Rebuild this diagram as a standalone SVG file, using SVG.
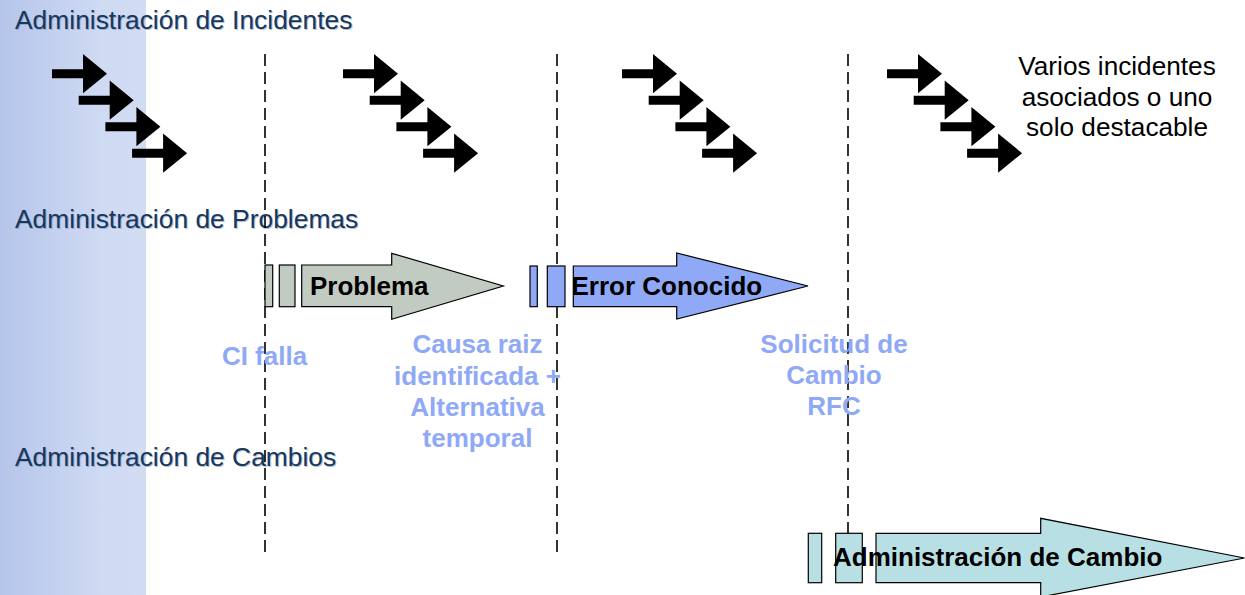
<svg xmlns="http://www.w3.org/2000/svg" xmlns:xlink="http://www.w3.org/1999/xlink" width="1245" height="595" viewBox="0 0 1245 595">
<style>
.hdr{font-family:"Liberation Sans",Arial,sans-serif;font-size:26.4px;fill:#17375e}
.hdrs{font-family:"Liberation Sans",Arial,sans-serif;font-size:26.4px;fill:#7f8ea6;opacity:0.55}
.lbl{font-family:"Liberation Sans",Arial,sans-serif;font-size:26px;font-weight:bold;fill:#8fa9f7;text-anchor:middle}
.box{font-family:"Liberation Sans",Arial,sans-serif;font-size:26px;font-weight:bold;fill:#000}
.note{font-family:"Liberation Sans",Arial,sans-serif;font-size:26.2px;fill:#000;text-anchor:middle}
.dash{stroke:#000;stroke-width:1.6;stroke-dasharray:12 6;fill:none}
.blk{fill:#000}
.shp{stroke:#000;stroke-width:1.2}
</style>
<defs>
<linearGradient id="band" x1="0" y1="0" x2="1" y2="0">
<stop offset="0" stop-color="#b5c5ea"/>
<stop offset="0.7" stop-color="#cfdaf3"/>
<stop offset="1" stop-color="#d2ddf4"/>
</linearGradient>
<polygon id="arr" class="blk" points="0,-4.5 31,-4.5 31,-19.6 55,0 31,19.6 31,4.5 0,4.5"/>
<g id="cascade">
<use xlink:href="#arr" x="0" y="0"/>
<use xlink:href="#arr" x="26.7" y="26.5"/>
<use xlink:href="#arr" x="53.4" y="53"/>
<use xlink:href="#arr" x="80.1" y="79.5"/>
</g>
</defs>
<rect x="0" y="0" width="1245" height="595" fill="#fff"/>
<rect x="0" y="0" width="146" height="595" fill="url(#band)"/>

<g id="headers">
<text class="hdrs" x="16" y="30">Administración de Incidentes</text>
<text class="hdr" x="15" y="29">Administración de Incidentes</text>
<text class="hdrs" x="16" y="229">Administración de Problemas</text>
<text class="hdr" x="15" y="228">Administración de Problemas</text>
<text class="hdrs" x="16" y="467">Administración de Cambios</text>
<text class="hdr" x="15" y="466">Administración de Cambios</text>
</g>

<g id="connectors">
<line class="dash" x1="265" y1="54" x2="265" y2="558"/>
<line class="dash" x1="557" y1="54" x2="557" y2="558"/>
<line class="dash" x1="848" y1="54" x2="848" y2="558"/>
</g>

<g id="incidents1"><use xlink:href="#cascade" x="52" y="73.7"/></g>
<g id="incidents2"><use xlink:href="#cascade" x="343" y="73.7"/></g>
<g id="incidents3"><use xlink:href="#cascade" x="622" y="73.7"/></g>
<g id="incidents4"><use xlink:href="#cascade" x="887" y="73.7"/></g>

<g id="note">
<text class="note" x="1117" y="75">Varios incidentes</text>
<text class="note" x="1117" y="106">asociados o uno</text>
<text class="note" x="1117" y="136">solo destacable</text>
</g>

<g id="problema">
<rect class="shp" x="265" y="265" width="7.7" height="41.7" fill="#c2cbc2"/>
<rect class="shp" x="279.3" y="265" width="15.7" height="41.7" fill="#c2cbc2"/>
<polygon class="shp" fill="#c2cbc2" points="301.7,265 391.7,265 391.7,253.3 503.3,286 391.7,319.3 391.7,306.7 301.7,306.7"/>
<text class="box" x="310" y="295">Problema</text>
</g>

<g id="error">
<rect class="shp" x="530" y="266" width="7.3" height="40.7" fill="#8fa9f7"/>
<rect class="shp" x="547.3" y="266" width="17.7" height="40.7" fill="#8fa9f7"/>
<polygon class="shp" fill="#8fa9f7" points="573.3,266 676.7,266 676.7,253 808,286 676.7,319 676.7,306.7 573.3,306.7"/>
<text class="box" x="571.5" y="295">Error Conocido</text>
</g>

<g id="cambio">
<rect class="shp" x="808.3" y="533.3" width="13.4" height="49.4" fill="#b8e0e4"/>
<rect class="shp" x="835.7" y="533.3" width="26.6" height="49.4" fill="#b8e0e4"/>
<polygon class="shp" fill="#b8e0e4" points="876,533.3 1040.7,533.3 1040.7,518.3 1244.5,558 1040.7,597 1040.7,582.7 876,582.7"/>
<text class="box" x="833" y="566">Administración de Cambio</text>
</g>

<g id="labels">
<text class="lbl" x="264.5" y="365">CI falla</text>
<text class="lbl" x="477.5" y="353.3">Causa raiz</text>
<text class="lbl" x="477.5" y="385">identificada +</text>
<text class="lbl" x="477.5" y="416">Alternativa</text>
<text class="lbl" x="477.5" y="446.7">temporal</text>
<text class="lbl" x="834" y="353.3">Solicitud de</text>
<text class="lbl" x="834" y="384">Cambio</text>
<text class="lbl" x="834" y="415">RFC</text>
</g>
</svg>
